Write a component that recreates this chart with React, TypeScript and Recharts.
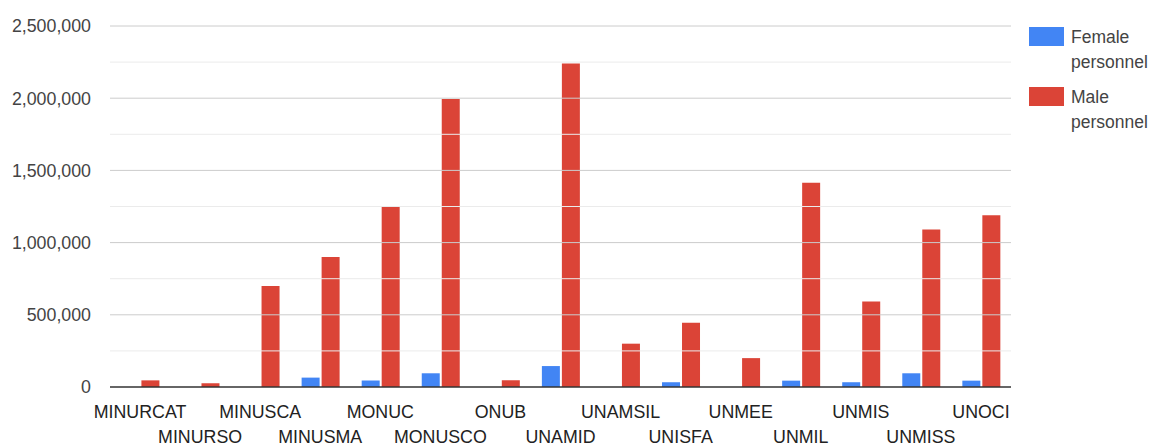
import React from 'react';
import { BarChart, Bar, XAxis, YAxis, ReferenceLine, Legend } from 'recharts';

const categories = ['MINURCAT', 'MINURSO', 'MINUSCA', 'MINUSMA', 'MONUC', 'MONUSCO', 'ONUB', 'UNAMID', 'UNAMSIL', 'UNISFA', 'UNMEE', 'UNMIL', 'UNMIS', 'UNMISS', 'UNOCI'];
const femaleValues = [0, 0, 0, 65000, 45000, 95000, 0, 145000, 0, 33000, 0, 44000, 33000, 95000, 44000];
const maleValues = [46000, 26000, 700000, 900000, 1248000, 1995000, 46000, 2240000, 300000, 445000, 200000, 1415000, 592000, 1090000, 1190000];
const majorTicks = [0, 500000, 1000000, 1500000, 2000000, 2500000];
const minorTicks = [250000, 750000, 1250000, 1750000, 2250000];
const seriesNames = ['Female personnel', 'Male personnel'];
const seriesColors = ['#4285F4', '#DB4437'];

const data = categories.map((c, i) => ({ name: c, female: femaleValues[i], male: maleValues[i] }));

const fmt = (v: number) => v.toLocaleString('en-US');

const FONT = 'Liberation Sans, Arial, sans-serif';

const XTick = (props: any) => {
  const { x, y, payload, index } = props;
  const idx = payload && payload.index !== undefined ? payload.index : index;
  const dy = idx % 2 === 0 ? 31 : 56;
  return (
    <text x={x} y={y + dy} textAnchor="middle" fill="#222" fontSize={17.8} fontFamily={FONT}>
      {payload.value}
    </text>
  );
};

const LegendContent = () => (
  <div style={{ fontFamily: FONT, fontSize: 17.5, color: '#444' }}>
    {seriesNames.map((n, i) => {
      const words = n.split(' ');
      return (
        <div key={n} style={{ position: 'relative', height: 60 }}>
          <div style={{ position: 'absolute', left: 0, top: 0, width: 35, height: 19, background: seriesColors[i] }} />
          <div style={{ position: 'absolute', left: 42, top: -2, lineHeight: '25px', whiteSpace: 'nowrap' }}>
            <div>{words[0]}</div>
            <div>{words[1]}</div>
          </div>
        </div>
      );
    })}
  </div>
);

export default function App() {
  return (
    <div style={{ position: 'absolute', left: 0, top: 0, width: 1153, height: 446, background: '#fff' }}>
      <BarChart
        width={1153}
        height={446}
        data={data}
        margin={{ top: 26, right: 142, bottom: 0, left: 0 }}
        barCategoryGap="19%"
        barGap={2}
      >
        {minorTicks.map((v) => (
          <ReferenceLine key={'mi' + v} y={v} stroke="#ebebeb" strokeWidth={1} />
        ))}
        {majorTicks.filter((v) => v > 0).map((v) => (
          <ReferenceLine key={'ma' + v} y={v} stroke="#cccccc" strokeWidth={1} />
        ))}
        <XAxis
          dataKey="name"
          interval={0}
          tickLine={false}
          tickSize={0}
          tickMargin={0}
          axisLine={{ stroke: '#333', strokeWidth: 1.5 }}
          tick={<XTick />}
          height={59}
        />
        <YAxis
          width={110}
          domain={[0, 2500000]}
          ticks={majorTicks}
          tickFormatter={fmt}
          axisLine={false}
          tickLine={false}
          tickSize={0}
          tickMargin={19}
          tick={{ fill: '#444', fontSize: 17.8, fontFamily: FONT }}
          interval={0}
        />
        <Legend
          layout="vertical"
          align="center"
          verticalAlign="middle"
          wrapperStyle={{ position: 'absolute', left: 1029, top: 27, width: 124, height: 130 }}
          content={<LegendContent />}
        />
        <Bar dataKey="female" name={seriesNames[0]} fill={seriesColors[0]} isAnimationActive={false} />
        <Bar dataKey="male" name={seriesNames[1]} fill={seriesColors[1]} isAnimationActive={false} />
      </BarChart>
    </div>
  );
}
